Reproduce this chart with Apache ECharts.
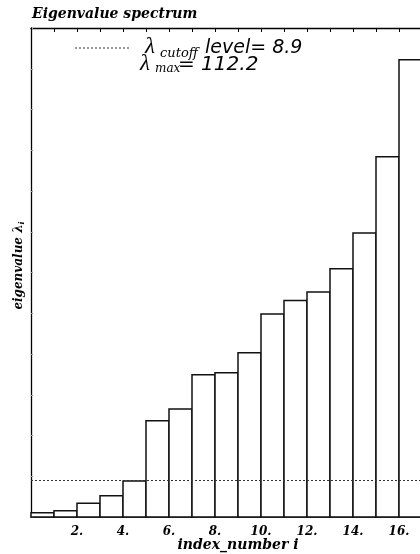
<!DOCTYPE html>
<html>
<head>
<meta charset="utf-8">
<script src="https://cdn.jsdelivr.net/npm/echarts@6/dist/echarts.min.js"></script>
<style>
html,body{margin:0;padding:0;background:#fff;overflow:hidden;width:420px;height:554px;}
#chart{width:470px;height:554px;}
</style>
</head>
<body>
<div id="chart"></div>
<script>
// ---- data ----
const indexNumbers = [1, 2, 3, 4, 5, 6, 7, 8, 9, 10, 11, 12, 13, 14, 15, 16, 17];
const eigenvalues = [1.05, 1.55, 3.4, 5.2, 8.85, 23.6, 26.5, 34.9, 35.4, 40.3, 49.8, 53.1, 55.2, 60.9, 69.7, 88.4, 112.2];
const cutoffLevel = 8.9;
const xTickValues = [2, 4, 6, 8, 10, 12, 14, 16];
const titleText = 'Eigenvalue spectrum';
const xAxisName = 'index_number i';

const lambdaMax = Math.max.apply(null, eigenvalues);
const barData = indexNumbers.map((n, k) => [n - 1, n, eigenvalues[k]]);

const chart = echarts.init(document.getElementById('chart'), null, {renderer: 'canvas'});
const serifBI = {fontFamily: 'DejaVu Serif', fontStyle: 'italic', fontWeight: 'bold'};

chart.setOption({
  animation: false,
  backgroundColor: '#fff',
  grid: {left: 31, right: 25, top: 28, bottom: 37, outerBoundsMode: 'none', containLabel: false},
  xAxis: [
    {
      type: 'value', position: 'bottom', min: 0, max: 18, interval: 1,
      axisLine: {lineStyle: {color: '#000', width: 1.5}},
      axisTick: {show: false},
      splitLine: {show: false},
      axisLabel: Object.assign({
        color: '#000', fontSize: 12, margin: 9,
        formatter: v => xTickValues.indexOf(v) >= 0 ? v + '.' : ''
      }, serifBI),
      name: xAxisName, nameLocation: 'middle', nameGap: 21, nameMoveOverlap: false,
      nameTextStyle: Object.assign({color: '#000', fontSize: 14}, serifBI)
    },
    {
      type: 'value', position: 'top', min: 0, max: 18, interval: 1,
      axisLine: {lineStyle: {color: '#000', width: 1.3}},
      axisTick: {inside: true, length: 4, lineStyle: {color: '#000', width: 1}},
      axisLabel: {show: false},
      splitLine: {show: false}
    }
  ],
  yAxis: [
    {
      type: 'value', min: 0, max: 120, interval: 10,
      axisLine: {lineStyle: {color: '#000', width: 1.3}},
      axisTick: {inside: true, length: 2, lineStyle: {color: '#999', width: 1}},
      axisLabel: {show: false},
      splitLine: {show: false},
      name: '{a|eigenvalue λ}{b|i}', nameLocation: 'middle', nameGap: 5, nameRotate: 90,
      nameMoveOverlap: false,
      nameTextStyle: {
        padding: [0, 0, 0, 14],
        rich: {
          a: Object.assign({color: '#000', fontSize: 12}, serifBI),
          b: Object.assign({color: '#000', fontSize: 8, verticalAlign: 'bottom', padding: [6, 0, 0, 0]}, serifBI)
        }
      }
    }
  ],
  series: [
    {
      type: 'custom',
      xAxisIndex: 0, yAxisIndex: 0,
      z: 2,
      data: barData,
      encode: {x: [0, 1], y: 2},
      renderItem: function (params, api) {
        const p0 = api.coord([api.value(0), api.value(2)]);
        const p1 = api.coord([api.value(1), 0]);
        return {
          type: 'rect',
          shape: {x: p0[0], y: p0[1], width: p1[0] - p0[0], height: p1[1] - p0[1]},
          style: {fill: '#fff', stroke: '#111', lineWidth: 1.5}
        };
      },
      markLine: {
        silent: true, symbol: ['none', 'none'], z: 5,
        label: {show: false},
        lineStyle: {color: '#333', type: [2, 2], width: 1},
        data: [{yAxis: cutoffLevel}]
      }
    }
  ],
  graphic: [
    {type: 'text', left: 32, top: 7, z: 10,
     style: {text: titleText, font: 'italic bold 14px "DejaVu Serif"', fill: '#000'}},
    {type: 'line', z: 10, shape: {x1: 75, y1: 48, x2: 130, y2: 48},
     style: {stroke: '#333', lineWidth: 1, lineDash: [2, 2]}},
    {type: 'text', x: 145, y: 35, z: 10,
     style: {text: 'λ', font: 'italic 23px "Liberation Serif"', fill: '#000'}},
    {type: 'text', x: 160, y: 47, z: 10,
     style: {text: 'cutoff', font: 'italic 13px "DejaVu Serif"', fill: '#000'}},
    {type: 'text', x: 205, y: 39, z: 10,
     style: {text: 'level= ' + cutoffLevel.toFixed(1), font: 'italic 19px "DejaVu Sans"', fill: '#000'}},
    {type: 'text', x: 140, y: 52, z: 10,
     style: {text: 'λ', font: 'italic 23px "Liberation Serif"', fill: '#000'}},
    {type: 'text', x: 155, y: 63, z: 10,
     style: {text: 'max', font: 'italic 12px "DejaVu Serif"', fill: '#000'}},
    {type: 'text', x: 178, y: 55, z: 10,
     style: {text: '= ' + lambdaMax.toFixed(1), font: 'italic 20px "DejaVu Sans"', fill: '#000'}}
  ]
});
</script>
</body>
</html>
